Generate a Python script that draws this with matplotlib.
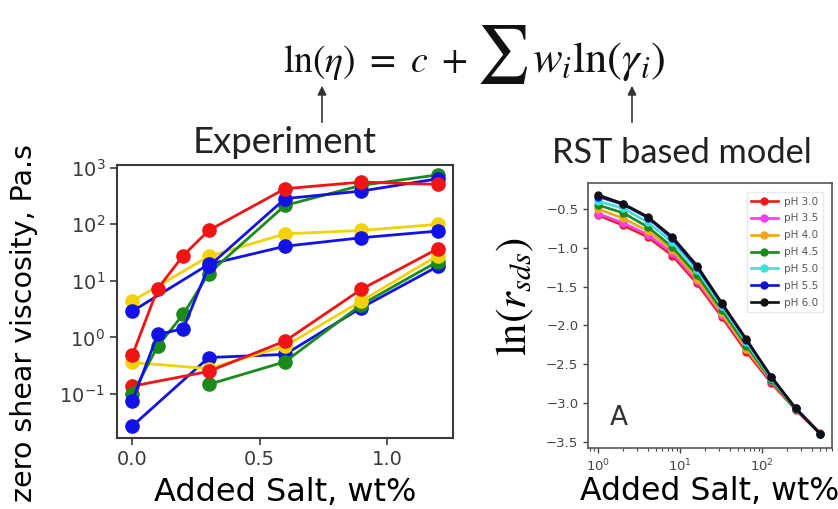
import matplotlib
matplotlib.use("Agg")
import matplotlib.pyplot as plt
from matplotlib.ticker import NullLocator, LogLocator
from matplotlib.patches import FancyArrowPatch

# ---------------- data: left panel (experiment) ----------------
x_full = [0.0, 0.1, 0.2, 0.3, 0.6, 0.9, 1.2]
x_skip = [0.0, 0.3, 0.6, 0.9, 1.2]
x_late = [0.3, 0.6, 0.9, 1.2]

red_hi = [0.48, 7.3, 28, 78, 427, 560, 510]
green_hi = [0.098, 0.70, 2.55, 13.5, 216, 490, 750]
blue_hi = [0.075, 1.13, 1.42, 18, 285, 388, 640]
yellow_mid = [4.4, 27, 68, 78, 100]
blue_mid = [2.9, 19.6, 41, 58, 76]
red_lo = [0.137, 0.25, 0.86, 7.1, 37]
yellow_lo = [0.36, 0.28, 0.70, 4.4, 28]
green_lo = [0.147, 0.37, 3.8, 22]
blue_lo = [0.027, 0.44, 0.50, 3.35, 18]

# ---------------- data: right panel (RST model) ----------------
salt = [1, 2, 4, 8, 16, 32, 64, 128, 256, 512]
ph_labels = ["pH 3.0", "pH 3.5", "pH 4.0", "pH 4.5", "pH 5.0", "pH 5.5", "pH 6.0"]
r_ph30 = [-0.58, -0.71, -0.86, -1.10, -1.46, -1.89, -2.34, -2.74, -3.09, -3.40]
r_ph35 = [-0.56, -0.68, -0.83, -1.07, -1.43, -1.86, -2.31, -2.72, -3.08, -3.39]
r_ph40 = [-0.50, -0.62, -0.78, -1.03, -1.40, -1.84, -2.30, -2.71, -3.08, -3.39]
r_ph45 = [-0.45, -0.55, -0.73, -0.99, -1.35, -1.80, -2.26, -2.70, -3.08, -3.40]
r_ph50 = [-0.40, -0.49, -0.67, -0.93, -1.29, -1.75, -2.22, -2.68, -3.07, -3.40]
r_ph55 = [-0.34, -0.44, -0.61, -0.88, -1.25, -1.72, -2.19, -2.66, -3.07, -3.40]
r_ph60 = [-0.32, -0.43, -0.60, -0.86, -1.23, -1.71, -2.18, -2.66, -3.07, -3.40]
ph_colors = ["#f01818", "#f040f0", "#f2a51a", "#1a8a1a", "#3fe0d8", "#1010d0", "#101010"]

RED, GREEN, BLUE, YEL = "#f01414", "#1a8a1a", "#1212e6", "#f2d20c"

W, H = 838, 509
fig = plt.figure(figsize=(W / 100, H / 100), dpi=100)
renderer = fig.canvas.get_renderer()


def fx(px):
    return px / W


def fy(py):
    return 1 - py / H


def fit_width(txt, target_px):
    """Scale a text's font size so its rendered width matches target_px."""
    for _ in range(3):
        w = txt.get_window_extent(renderer).width
        txt.set_fontsize(txt.get_fontsize() * target_px / w)


spine_c = "#3a3a3a"

# ---------------- left axes ----------------
axL = fig.add_axes([fx(117), fy(438), fx(453 - 117), (438 - 165) / H])
mk = dict(marker="o", ms=9.5, lw=2.0)
axL.plot(x_skip, yellow_mid, color=YEL, **mk)
axL.plot(x_skip, blue_mid, color=BLUE, **mk)
axL.plot(x_skip, blue_lo, color=BLUE, **mk)
axL.plot(x_late, green_lo, color=GREEN, **mk)
axL.plot(x_skip, yellow_lo, color=YEL, **mk)
axL.plot(x_skip, red_lo, color=RED, **mk)
axL.plot(x_full, green_hi, color=GREEN, **mk)
axL.plot(x_full, blue_hi, color=BLUE, **mk)
axL.plot(x_full, red_hi, color=RED, **mk)
axL.set_yscale("log")
axL.set_xlim(-0.06, 1.26)
axL.set_ylim(10 ** -1.78, 10 ** 3.05)
axL.yaxis.set_major_locator(LogLocator(base=10, numticks=10))
axL.yaxis.set_minor_locator(NullLocator())
axL.set_xticks([0.0, 0.5, 1.0])
axL.tick_params(labelsize=14, colors=spine_c, length=5, width=1.2)
for s in axL.spines.values():
    s.set_color(spine_c)
    s.set_linewidth(1.5)
axL.set_xlabel("Added Salt, wt%", fontsize=23, labelpad=6)
axL.set_ylabel("zero shear viscosity, Pa.s", fontsize=20.5)
# y-label anchor is its right edge (rotated text)
axL.yaxis.set_label_coords((38 - 117) / 336, (438 - 323) / 273)

# ---------------- right axes ----------------
axR = fig.add_axes([fx(588), fy(448), fx(832 - 588), (448 - 183) / H])
series = [r_ph30, r_ph35, r_ph40, r_ph45, r_ph50, r_ph55, r_ph60]
for vals, lab, c in zip(series, ph_labels, ph_colors):
    axR.plot(salt, vals, color=c, marker="o", ms=5, lw=1.9, label=lab)
axR.set_xscale("log")
axR.set_xlim(10 ** -0.125, 10 ** 2.85)
axR.set_ylim(-3.58, -0.165)
axR.set_yticks([-0.5, -1.0, -1.5, -2.0, -2.5, -3.0, -3.5])
axR.tick_params(labelsize=9.5, colors="#444444", length=3.5, width=1.0)
axR.tick_params(which="minor", length=2, width=0.8, colors="#444444")
for s in axR.spines.values():
    s.set_color("#555555")
    s.set_linewidth(1.2)
axR.set_xlabel("Added Salt, wt%", fontsize=22.7, labelpad=1)
axR.set_ylabel(r"$\ln(r_{sds})$", fontsize=31, math_fontfamily="stix")
axR.yaxis.set_label_coords((536 - 588) / 244, (448 - 296) / 265)
leg = axR.legend(loc="upper right", fontsize=7.5, frameon=True, labelspacing=0.66,
                 handlelength=2.6, handletextpad=0.6, borderpad=0.4,
                 borderaxespad=0.9, edgecolor="#e4e4e4",
                 fancybox=False, labelcolor="#555555")
axR.text(0.09, 0.087, "A", transform=axR.transAxes, fontsize=19, color="#333333",
         va="baseline")

# ---------------- equation and annotations ----------------
eq1 = fig.text(fx(283), fy(72), r"$\ln(\eta)\ =\ c\ +$", fontsize=30,
               ha="left", va="baseline", math_fontfamily="stix", color="#111111")
fit_width(eq1, 184)
eq2 = fig.text(fx(502), fy(54), r"$\sum$", fontsize=42, ha="center", va="center",
               math_fontfamily="stix", color="#111111")
eq3 = fig.text(fx(532), fy(72), r"$w_i\ln(\gamma_i)$", fontsize=30,
               ha="left", va="baseline", math_fontfamily="stix", color="#111111")
fit_width(eq3, 133)

t_exp = fig.text(fx(285), fy(153), "Experiment", fontsize=25, ha="center",
                 va="baseline", family=["Lato", "DejaVu Sans"], color="#222222")
fit_width(t_exp, 184)
t_rst = fig.text(fx(682), fy(163), "RST based model", fontsize=25, ha="center",
                 va="baseline", family=["Lato", "DejaVu Sans"], color="#222222")
fit_width(t_rst, 260)

for xa in (322, 632):
    fig.add_artist(FancyArrowPatch(
        (fx(xa), fy(125)), (fx(xa), fy(83)), transform=fig.transFigure,
        arrowstyle="-|>", mutation_scale=13, color="#333333", lw=1.2))

fig.savefig("out.png", dpi=100)
